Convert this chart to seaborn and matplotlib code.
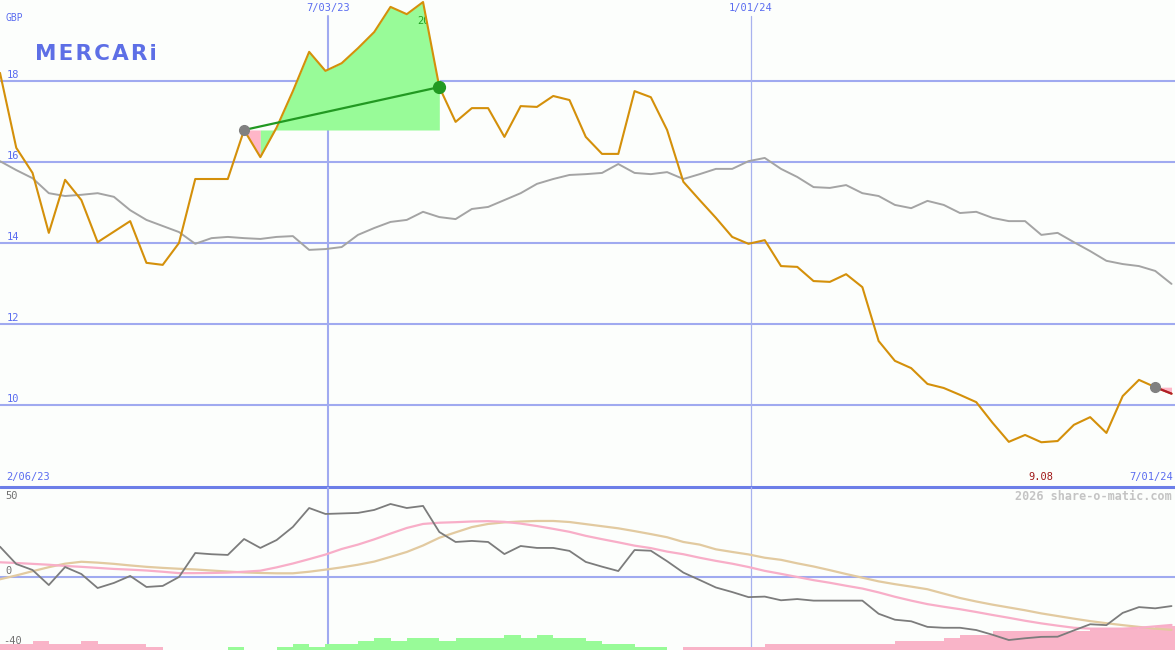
import matplotlib
matplotlib.use("Agg")
import matplotlib.pyplot as plt
import numpy as np
import pandas as pd
import seaborn as sns

# weekly closes, Mercari (GBP)
dates = pd.date_range("2023-02-12", periods=73, freq="7D")

price = [18.20, 16.35, 15.73, 14.25, 15.56, 15.06, 14.02, 14.28, 14.54, 13.51,
         13.46, 14.00, 15.58, 15.58, 15.58, 16.79, 16.12, 16.85, 17.75, 18.72,
         18.25, 18.44, 18.81, 19.21, 19.83, 19.65, 19.95, 17.85, 16.99, 17.33,
         17.33, 16.62, 17.38, 17.36, 17.63, 17.53, 16.62, 16.20, 16.20, 17.75,
         17.60, 16.79, 15.51, 15.06, 14.62, 14.15, 13.98, 14.07, 13.43, 13.41,
         13.06, 13.04, 13.23, 12.91, 11.58, 11.09, 10.91, 10.52, 10.42, 10.25,
         10.07, 9.56, 9.09, 9.26, 9.08, 9.11, 9.51, 9.70, 9.31, 10.22,
         10.62, 10.44, 10.28]

relative = [16.02, 15.80, 15.60, 15.23, 15.16, 15.19, 15.23, 15.14, 14.81, 14.57,
            14.42, 14.27, 13.98, 14.12, 14.15, 14.12, 14.10, 14.15, 14.17, 13.83,
            13.85, 13.90, 14.20, 14.37, 14.52, 14.57, 14.77, 14.64, 14.59, 14.84,
            14.89, 15.06, 15.23, 15.46, 15.58, 15.68, 15.70, 15.73, 15.95, 15.73,
            15.70, 15.75, 15.58, 15.70, 15.83, 15.83, 16.02, 16.10, 15.83, 15.63,
            15.38, 15.36, 15.43, 15.23, 15.16, 14.94, 14.86, 15.04, 14.94, 14.74,
            14.77, 14.62, 14.54, 14.54, 14.20, 14.25, 14.02, 13.80, 13.56, 13.48,
            13.43, 13.31, 12.99]

momentum = [17.3, 7.4, 4.0, -4.6, 5.7, 1.7, -6.3, -3.4, 0.6, -5.7,
            -5.1, 0.0, 13.7, 13.0, 12.6, 21.7, 16.6, 21.1, 28.6, 39.4,
            36.0, 36.3, 36.6, 38.3, 41.7, 39.4, 40.6, 25.7, 20.0, 20.6,
            20.0, 13.1, 17.7, 16.6, 16.6, 14.9, 8.6, 5.9, 3.4, 15.4,
            15.0, 9.0, 2.5, -1.7, -6.0, -8.6, -11.5, -11.2, -13.3, -12.6,
            -13.5, -13.5, -13.5, -13.5, -21.0, -24.4, -25.3, -28.5, -29.0, -29.0,
            -30.3, -33.0, -36.0, -35.0, -34.2, -34.1, -30.5, -27.0, -27.5, -20.5,
            -17.2, -17.9, -16.6]

avg_fast = [8.4, 8.0, 7.5, 7.0, 6.3, 5.8, 5.2, 4.6, 4.2, 3.7,
            3.0, 2.2, 2.2, 2.3, 2.5, 3.0, 3.6, 5.5, 7.7, 10.2,
            12.8, 16.0, 18.5, 21.5, 24.8, 28.0, 30.3, 31.0, 31.3, 31.7,
            31.9, 31.5, 30.5, 29.1, 27.5, 25.8, 23.5, 21.6, 19.8, 17.9,
            16.5, 14.5, 13.0, 11.0, 9.2, 7.6, 5.7, 3.5, 1.8, 0.0,
            -1.8, -3.3, -5.0, -6.6, -8.8, -11.3, -13.5, -15.5, -17.0, -18.4,
            -20.0, -21.7, -23.3, -25.0, -26.5, -27.8, -29.0, -29.5, -29.5, -29.5,
            -29.0, -28.2, -27.4]

avg_slow = [-1.3, 0.9, 3.3, 5.6, 7.6, 8.7, 8.2, 7.5, 6.6, 5.8,
            5.2, 4.7, 4.3, 3.7, 3.1, 2.6, 2.3, 2.1, 2.1, 3.0,
            4.2, 5.5, 7.0, 8.8, 11.5, 14.3, 18.0, 22.4, 25.5, 28.5,
            30.3, 31.2, 31.7, 32.0, 32.0, 31.4, 30.2, 29.0, 27.8, 26.2,
            24.5, 22.7, 20.0, 18.5, 15.8, 14.3, 12.9, 11.0, 9.8, 7.8,
            6.0, 3.9, 1.7, -0.4, -2.5, -4.1, -5.5, -7.0, -9.5, -12.0,
            -14.0, -15.8, -17.4, -19.0, -20.8, -22.3, -23.8, -25.2, -26.4, -27.5,
            -28.5, -29.5, -30.2]

hist = [-3.4, -3.4, -5.1, -3.4, -3.4, -5.1, -3.4, -3.4, -3.4, -1.7,
        0, 0, 0, 0, 1.7, 0, 0, 1.7, 3.4, 1.7,
        3.4, 3.4, 5.1, 6.9, 5.1, 6.9, 6.9, 5.1, 6.9, 6.9,
        6.9, 8.6, 6.9, 8.6, 6.9, 6.9, 5.1, 3.4, 3.4, 1.7,
        1.7, 0, -1.7, -1.7, -1.7, -1.7, -1.7, -3.4, -3.4, -3.4,
        -3.4, -3.4, -3.4, -3.4, -3.4, -5.1, -5.1, -5.1, -6.9, -8.6,
        -8.6, -10.9, -10.9, -10.9, -10.9, -10.9, -10.9, -12.0, -12.0, -12.0,
        -12.6, -13.7, -13.7]

# (entry, exit, closed)
trades = [("2023-05-28", "2023-08-20", True), ("2024-06-23", "2024-06-30", False)]
marked_dates = ["2023-07-03", "2024-01-01"]
marked_labels = ["7/03/23", "1/01/24"]
price_ticks = [10, 12, 14, 16, 18]

BG = "#fcfefc"
GRID = "#a0aaf0"
BLUE = "#5a6cf0"
MONO = "DejaVu Sans Mono"

sns.set_style("white")
plt.rcParams["font.family"] = [MONO]

df = pd.DataFrame({"date": dates, "price": price, "relative": relative,
                   "momentum": momentum, "fast": avg_fast, "slow": avg_slow,
                   "hist": hist})

fig = plt.figure(figsize=(11.75, 6.5), dpi=100, facecolor=BG)
ax = fig.add_axes([0, 163 / 650, 1, 487 / 650])
ax2 = fig.add_axes([0, 0, 1, 163 / 650])
for a in (ax, ax2):
    a.set_axis_off()
    a.set_xlim(dates[0], dates[0] + pd.Timedelta(days=505.5))

lo, hi = 7.975, 20.0
ax.set_ylim(lo, hi)
lo2, hi2 = -41.7, 51.4
ax2.set_ylim(lo2, hi2)

# grid
for v in price_ticks:
    ax.axhline(v, color=GRID, lw=1.5, zorder=0.5)
    ax.annotate(str(v), xy=(0, v), xycoords=("axes fraction", "data"),
                xytext=(7, 1), textcoords="offset pixels", va="bottom",
                fontsize=7.5, color=BLUE)
ax.axhline(lo, color="#6c7ee8", lw=2.2, clip_on=False, zorder=6)
ax2.axhline(0, color=GRID, lw=1.5, zorder=0.5)

for d, lab, c, w in zip(marked_dates, marked_labels, [GRID, "#a8b2ee"], [1.5, 0.9]):
    ax.axvline(pd.Timestamp(d), ymax=1 - 16 / 487, color=c, lw=w, zorder=0.5)
    ax2.axvline(pd.Timestamp(d), color=c, lw=w, zorder=0.5)
    ax.annotate(lab, xy=(pd.Timestamp(d), 1), xycoords=("data", "axes fraction"),
                xytext=(0, -3), textcoords="offset pixels", ha="center", va="top",
                fontsize=7.5, color=BLUE)

# trades: fill between price and entry level
for start, end, closed in trades:
    i0 = dates.get_loc(pd.Timestamp(start))
    i1 = dates.get_loc(pd.Timestamp(end))
    entry = price[i0]
    k = i0
    while k < i1:
        up = price[k + 1] >= entry
        j = k
        while j < i1 and (price[j + 1] >= entry) == up:
            j += 1
        ax.fill_between(dates[k:j + 1], price[k:j + 1], entry,
                        color="#98fb98" if up else "#ffb6c8", lw=0, zorder=1)
        if up and closed:
            # high label, hidden where it leaves the filled area
            top = int(np.argmax(price[k:j + 1])) + k
            ax.annotate(f"{price[top]:.0f}", xy=(dates[top], price[top]),
                        xytext=(0, -14), textcoords="offset pixels",
                        ha="center", va="top", fontsize=7.5, color="#22a022",
                        zorder=1.5)
            ax.fill_between(dates[top:top + 2], price[top:top + 2], hi,
                            color=BG, lw=0, zorder=1.6)
        k = j
    win = price[i1] >= entry
    ax.plot([dates[i0], dates[i1]], [entry, price[i1]],
            color="#229922" if win else "#b01c2c", lw=1.6, zorder=4)
    ax.plot(dates[i0], entry, "o", ms=7, color="#808080", zorder=5)
    if closed:
        ax.plot(dates[i1], price[i1], "o", ms=8.5, color="#229922", zorder=5)

sns.lineplot(data=df, x="date", y="relative", ax=ax, color="#a4a4a4", lw=1.4, zorder=2)
sns.lineplot(data=df, x="date", y="price", ax=ax, color="#d4900a", lw=1.5, zorder=3)

low = int(np.argmin(price))
ax.annotate(f"{price[low]:.2f}", xy=(dates[low], 0), xycoords=("data", "axes fraction"),
            xytext=(0, 5), textcoords="offset pixels", ha="center", va="bottom",
            fontsize=7.5, color="#a01818")
ax.annotate("2/06/23", xy=(0, 0), xycoords="axes fraction", xytext=(6, 5),
            textcoords="offset pixels", va="bottom", fontsize=7.5, color=BLUE)
ax.annotate("7/01/24", xy=(1, 0), xycoords="axes fraction", xytext=(-2, 5),
            textcoords="offset pixels", ha="right", va="bottom", fontsize=7.5, color=BLUE)
ax.annotate("GBP", xy=(0, 1), xycoords="axes fraction", xytext=(6, -13),
            textcoords="offset pixels", va="top", fontsize=7, color=BLUE)
fig.text(35 / 1175, 1 - 60 / 650, "\u200a".join("MERCARi"), fontsize=15.5,
         fontweight="bold", family="DejaVu Sans", color="#5d6fe6", va="baseline")

# lower panel
colors = ["#98fb98" if h > 0 else "#f9b4c8" for h in hist]
ax2.bar(dates, np.abs(hist), width=pd.Timedelta(days=7), bottom=lo2, align="edge",
        color=colors, lw=0, zorder=1)
sns.lineplot(data=df, x="date", y="slow", ax=ax2, color="#e2caa0", lw=1.6, zorder=2)
sns.lineplot(data=df, x="date", y="fast", ax=ax2, color="#f8aec8", lw=1.6, zorder=2)
sns.lineplot(data=df, x="date", y="momentum", ax=ax2, color="#7c7c7c", lw=1.3, zorder=3)

ax2.annotate("50", xy=(0, 1), xycoords="axes fraction", xytext=(5, -4),
             textcoords="offset pixels", va="top", fontsize=7.5, color="#707070")
ax2.annotate("0", xy=(0, 0), xycoords=("axes fraction", "data"), xytext=(5, 1),
             textcoords="offset pixels", va="bottom", fontsize=7.5, color="#707070")
ax2.annotate("-40", xy=(0, -40), xycoords=("axes fraction", "data"), xytext=(3, 1),
             textcoords="offset pixels", va="bottom", fontsize=7.5, color="#707070")
ax2.annotate("2026 share-o-matic.com", xy=(1, 1), xycoords="axes fraction",
             xytext=(-3, -3), textcoords="offset pixels", ha="right", va="top",
             fontsize=8.5, fontweight="bold", color="#c4c4c4")

fig.savefig("out.png", dpi=100, facecolor=BG)
